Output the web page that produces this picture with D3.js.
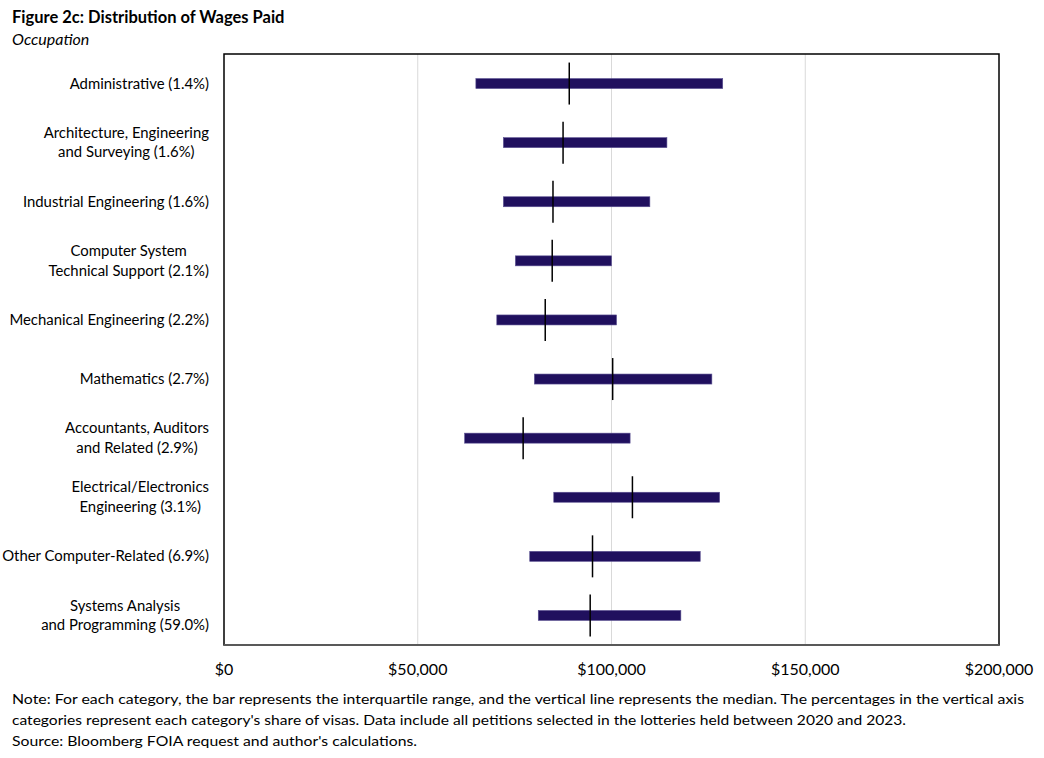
<!DOCTYPE html>
<html>
<head>
<meta charset="utf-8">
<script src="https://cdn.jsdelivr.net/npm/d3@7"></script>
<style>
  body { margin: 0; background: #fff; }
  svg { display: block; font-family: Lato, "Open Sans", sans-serif; }
</style>
</head>
<body>
<div id="chart"></div>
<script>
// occupation labels, one entry per line of the label
const categories = [
  ['Administrative (1.4%)'],
  ['Architecture, Engineering', 'and Surveying (1.6%)'],
  ['Industrial Engineering (1.6%)'],
  ['Computer System', 'Technical Support (2.1%)'],
  ['Mechanical Engineering (2.2%)'],
  ['Mathematics (2.7%)'],
  ['Accountants, Auditors', 'and Related (2.9%)'],
  ['Electrical/Electronics', 'Engineering (3.1%)'],
  ['Other Computer-Related (6.9%)'],
  ['Systems Analysis', 'and Programming (59.0%)']
];

// wages, interquartile range and median
const q1Wage = [65000, 72100, 72100, 75200, 70400, 80100, 62100, 85100, 78900, 81100];
const medianWage = [89100, 87500, 84900, 84700, 82900, 100300, 77200, 105400, 95100, 94500];
const q3Wage = [128700, 114300, 109900, 100000, 101300, 125900, 104800, 127900, 122900, 117900];

const xTicks = [0, 50000, 100000, 150000, 200000];

const noteLines = [
  "Note: For each category, the bar represents the interquartile range, and the vertical line represents the median. The percentages in the vertical axis",
  "categories represent each category's share of visas. Data include all petitions selected in the lotteries held between 2020 and 2023.",
  "Source: Bloomberg FOIA request and author's calculations."
];
const noteWidths = [1012, 894, 405];

const width = 1044, height = 758;
const plot = { left: 224, right: 999, top: 54, bottom: 645 };

const svg = d3.select('#chart')
  .append('svg')
  .attr('width', width)
  .attr('height', height)
  .attr('viewBox', `0 0 ${width} ${height}`);

const x = d3.scaleLinear()
  .domain([0, 200000])
  .range([plot.left, plot.right]);

const y = d3.scaleBand()
  .domain(d3.range(categories.length))
  .range([plot.top, plot.bottom]);

const fmt = v => '$' + d3.format(',')(v);

// Title
svg.append('text')
  .attr('x', 12)
  .attr('y', 23)
  .attr('font-size', '16.5px')
  .attr('font-weight', 'bold')
  .attr('fill', '#000')
  .text('Figure 2c: Distribution of Wages Paid');

svg.append('text')
  .attr('x', 12)
  .attr('y', 45)
  .attr('font-size', '16px')
  .attr('font-style', 'italic')
  .attr('fill', '#000')
  .text('Occupation');

// Gridlines
svg.append('g')
  .selectAll('line')
  .data(xTicks.slice(1, -1))
  .join('line')
  .attr('x1', d => x(d))
  .attr('x2', d => x(d))
  .attr('y1', plot.top)
  .attr('y2', plot.bottom)
  .attr('stroke', '#d9d9d9')
  .attr('stroke-width', 1);

// Plot frame
svg.append('rect')
  .attr('x', plot.left)
  .attr('y', plot.top)
  .attr('width', plot.right - plot.left)
  .attr('height', plot.bottom - plot.top)
  .attr('fill', 'none')
  .attr('stroke', '#000')
  .attr('stroke-width', 1.5);

svg.append('line')
  .attr('x1', plot.left)
  .attr('x2', plot.right)
  .attr('y1', plot.bottom)
  .attr('y2', plot.bottom)
  .attr('stroke', '#595959')
  .attr('stroke-width', 2);

// Tick labels
svg.append('g')
  .selectAll('text')
  .data(xTicks)
  .join('text')
  .attr('x', d => x(d))
  .attr('y', 675)
  .attr('text-anchor', 'middle')
  .attr('font-size', '16px')
  .attr('fill', '#000')
  .text(fmt);

// IQR bars
const rows = categories.map((c, i) => ({ i, q1: q1Wage[i], med: medianWage[i], q3: q3Wage[i] }));
const cy = i => y(i) + y.bandwidth() / 2;

svg.append('g')
  .selectAll('rect')
  .data(rows)
  .join('rect')
  .attr('x', d => x(d.q1))
  .attr('y', d => cy(d.i) - 5)
  .attr('width', d => x(d.q3) - x(d.q1))
  .attr('height', 10)
  .attr('fill', '#20105e')
  .attr('stroke', '#5b5192')
  .attr('stroke-width', 0.6);

// Median lines
svg.append('g')
  .selectAll('line')
  .data(rows)
  .join('line')
  .attr('x1', d => x(d.med))
  .attr('x2', d => x(d.med))
  .attr('y1', d => cy(d.i) - 21)
  .attr('y2', d => cy(d.i) + 21)
  .attr('stroke', '#000')
  .attr('stroke-width', 1.5);

// Category labels, lines centred on each other, block right aligned
const labelRight = 209;
const lineGap = 19.6;
categories.forEach((lines, i) => {
  const t = svg.append('text')
    .attr('font-size', '14.9px')
    .attr('fill', '#000')
    .attr('text-anchor', 'middle');
  const first = cy(i) + 5 - (lines.length - 1) * lineGap / 2;
  const spans = lines.map((s, k) => t.append('tspan')
    .attr('y', first + k * lineGap)
    .text(s));
  const maxW = d3.max(spans, s => s.node().getComputedTextLength());
  spans.forEach(s => s.attr('x', labelRight - maxW / 2));
});

// Note
svg.append('g')
  .selectAll('text')
  .data(noteLines)
  .join('text')
  .attr('x', 12)
  .attr('y', (d, i) => 704 + i * 21)
  .attr('font-size', '14px')
  .attr('fill', '#000')
  .attr('textLength', (d, i) => noteWidths[i])
  .attr('lengthAdjust', 'spacingAndGlyphs')
  .text(d => d);
</script>
</body>
</html>
